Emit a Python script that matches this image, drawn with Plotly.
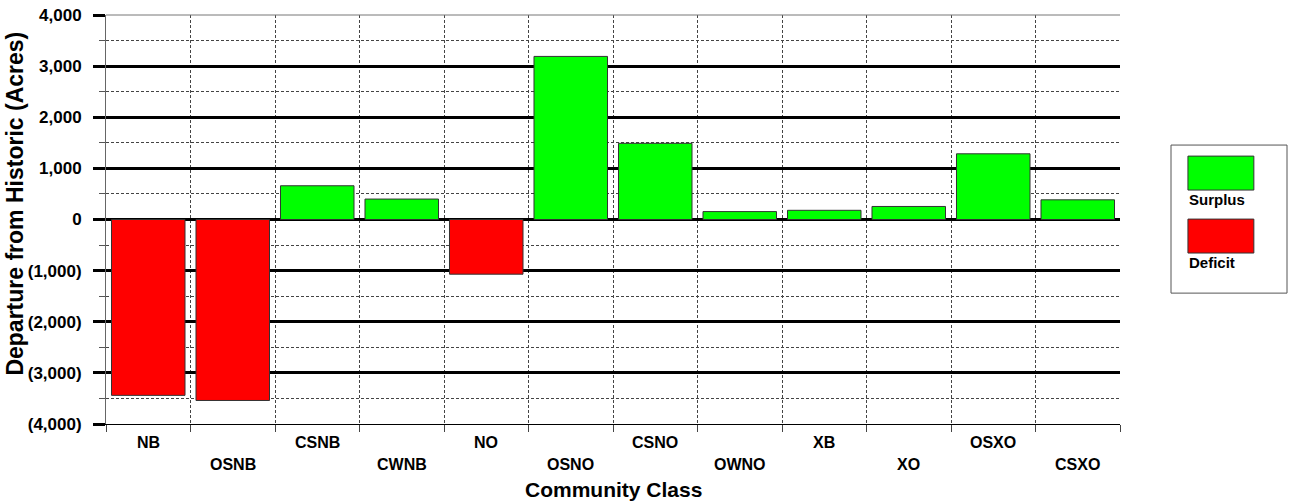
import plotly.graph_objects as go

categories = ["NB", "OSNB", "CSNB", "CWNB", "NO", "OSNO", "CSNO", "OWNO", "XB", "XO", "OSXO", "CSXO"]
departure = [-3440, -3540, 660, 400, -1070, 3190, 1490, 155, 180, 255, 1285, 385]
y_ticks = [-4000, -3000, -2000, -1000, 0, 1000, 2000, 3000, 4000]
y_ticktext = ["(4,000)", "(3,000)", "(2,000)", "(1,000)", "0", "1,000", "2,000", "3,000", "4,000"]
legend_names = ["Surplus", "Deficit"]
legend_colors = ["#00FF00", "#FF0000"]

FONT = "Arial, Liberation Sans, sans-serif"
colors = [legend_colors[0] if v >= 0 else legend_colors[1] for v in departure]

fig = go.Figure()
fig.add_trace(go.Bar(
    x=categories, y=departure,
    marker=dict(color=colors, line=dict(color="#333333", width=1)),
    showlegend=False,
))

fig.update_layout(
    width=1291, height=504,
    margin=dict(l=106, r=171, t=15, b=80, autoexpand=False),
    paper_bgcolor="white", plot_bgcolor="white",
    bargap=0.13,
    font=dict(family=FONT, color="black"),
)

fig.update_xaxes(
    type="category", tickson="boundaries",
    showticklabels=False, automargin=False,
    ticks="outside", ticklen=7, tickcolor="#444444", tickwidth=1,
    showgrid=True, gridcolor="#444444", gridwidth=1, griddash="3px,2px",
    showline=True, linecolor="black", linewidth=1,
    mirror=False, range=[-0.5, 11.5],
)

fig.update_yaxes(
    range=[-4000, 4000], automargin=False,
    tickmode="array", tickvals=y_ticks, ticktext=y_ticktext,
    tickfont=dict(family=FONT, size=17, color="black", weight="bold"),
    ticks="outside", ticklen=12, tickwidth=3, tickcolor="black",
    ticklabelstandoff=8, ticklabeloverflow="allow",
    showgrid=True, gridcolor="black", gridwidth=3,
    zeroline=True, zerolinecolor="black", zerolinewidth=3,
    showline=True, linecolor="#666666", linewidth=1,
    minor=dict(dtick=500, tick0=500, showgrid=True, gridcolor="#444444", griddash="3px,2px",
               gridwidth=1, ticks="outside", ticklen=6, tickcolor="#555555", tickwidth=1),
)

# top border line
fig.add_shape(type="line", xref="paper", yref="paper", x0=0, x1=1, y0=1, y1=1,
              line=dict(color="#777777", width=1))

# staggered category labels
for i, c in enumerate(categories):
    fig.add_annotation(
        x=c, xref="x", y=-0.046 if i % 2 == 0 else -0.100, yref="paper",
        text=c, showarrow=False, xanchor="center", yanchor="middle",
        font=dict(family=FONT, size=16, color="black", weight="bold"),
    )

fig.add_annotation(
    x=0.5, xref="paper", y=-0.161, yref="paper", text="Community Class",
    showarrow=False, xanchor="center", yanchor="middle",
    font=dict(family=FONT, size=21, color="black", weight="bold"),
)
fig.add_annotation(
    x=-0.0893, xref="paper", y=0.54, yref="paper", text="Departure from Historic (Acres)",
    showarrow=False, xanchor="center", yanchor="middle", textangle=-90,
    font=dict(family=FONT, size=23, color="black", weight="bold"),
)

# custom legend
fig.add_shape(type="rect", xref="paper", yref="paper", x0=1.0503, x1=1.1647, y0=0.320, y1=0.682,
              line=dict(color="#555555", width=1), fillcolor="white")
sw = [(0.655, 0.572, 0.548), (0.501, 0.418, 0.394)]
for (top, bot, ty), name, col in zip(sw, legend_names, legend_colors):
    fig.add_shape(type="rect", xref="paper", yref="paper", x0=1.067, x1=1.132, y0=bot, y1=top,
                  line=dict(color="#333333", width=1), fillcolor=col)
    fig.add_annotation(x=1.066, xref="paper", y=ty, yref="paper", text=name, showarrow=False,
                       xanchor="left", yanchor="middle",
                       font=dict(family=FONT, size=15, color="black", weight="bold"))

fig.write_html("out.html", config={"displayModeBar": False},
               post_script="document.body.style.margin='0px';")
